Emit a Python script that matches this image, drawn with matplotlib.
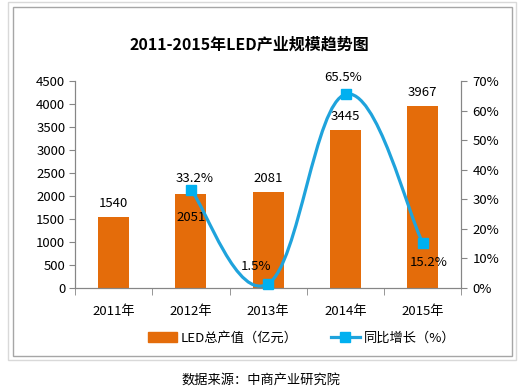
import numpy as np
import matplotlib
matplotlib.use("Agg")
import matplotlib.pyplot as plt
from matplotlib.path import Path
from matplotlib.patches import PathPatch, Rectangle
from matplotlib.lines import Line2D

plt.rcParams['font.family'] = ['Noto Sans CJK SC', 'DejaVu Sans']

## data
years = ["2011年", "2012年", "2013年", "2014年", "2015年"]
output_value = [1540, 2051, 2081, 3445, 3967]
growth_years = [1, 2, 3, 4]          # growth only from 2012
growth_pct = [33.2, 1.5, 65.5, 15.2]
growth_labels = ["33.2%", "1.5%", "65.5%", "15.2%"]

bar_color = "#E46C0A"
line_color = "#1FA3DC"
marker_color = "#00B0F0"
axis_color = "#868686"

fig = plt.figure(figsize=(5.29, 3.90), dpi=100)
ax = fig.add_axes([0.1418, 0.2615, 0.7306, 0.5308])
ax2 = ax.twinx()

x = np.arange(len(years))
ax.bar(x, output_value, width=0.40, color=bar_color, zorder=2)
ax.set_xlim(-0.5, len(years) - 0.5)
ax.set_ylim(0, 4500)
ax.set_yticks(np.arange(0, 4501, 500))
ax.set_xticks(x)
ax.set_xticklabels(years)
ax.set_xticks(np.arange(-0.5, len(years), 1), minor=True)
ax.tick_params(axis='x', which='major', length=0, pad=12, labelsize=9.5)
ax.tick_params(axis='x', which='minor', length=5, color=axis_color, direction='out')
ax.tick_params(axis='y', length=4, color=axis_color, pad=3, labelsize=9.5)

ax2.set_ylim(0, 70)
ax2.set_yticks(np.arange(0, 71, 10))
ax2.set_yticklabels([f"{v}%" for v in range(0, 71, 10)])
ax2.tick_params(axis='y', length=4, color=axis_color, pad=4, labelsize=9.5)

for a in (ax, ax2):
    a.spines['top'].set_visible(False)
    for s in ('left', 'right', 'bottom'):
        a.spines[s].set_color(axis_color)
ax.set_zorder(1)
ax2.set_zorder(2)
ax.patch.set_visible(False)

# bar value labels
bar_offsets = [5, -17, 5, 5, 5]
for xi, v, off in zip(x, output_value, bar_offsets):
    ax.annotate(str(v), (xi, v), xytext=(0, off), textcoords='offset points',
                ha='center', va='center' if off < 0 else 'bottom', fontsize=9.5,
                zorder=5)

# smoothed growth line (Excel-style smooth curve), computed in pixel-like space
sx, sy = 77.3, 207 / 70.0
pts = np.array([[gx * sx, gy * sy] for gx, gy in zip(growth_years, growth_pct)])
verts = [tuple(pts[0])]
codes = [Path.MOVETO]
n = len(pts)
for i in range(n - 1):
    p0 = pts[max(i - 1, 0)]
    p1 = pts[i]
    p2 = pts[i + 1]
    p3 = pts[min(i + 2, n - 1)]
    c1 = p1 + (p2 - p0) / 5.0
    c2 = p2 - (p3 - p1) / 5.0
    verts += [tuple(c1), tuple(c2), tuple(p2)]
    codes += [Path.CURVE4] * 3
verts = [(vx / sx, vy / sy) for vx, vy in verts]
curve = PathPatch(Path(verts, codes), facecolor='none', edgecolor=line_color,
                  lw=2.3, clip_on=False, zorder=3)
ax2.add_patch(curve)
ax2.plot(growth_years, growth_pct, ls='none', marker='s', ms=7,
         color=marker_color, clip_on=False, zorder=4)

pct_offsets = [(3, 8), (-9, 12), (-2, 12), (4, -14)]
for gx, gy, lab, off in zip(growth_years, growth_pct, growth_labels, pct_offsets):
    ax2.annotate(lab, (gx, gy), xytext=off, textcoords='offset points',
                 ha='center', va='center', fontsize=9.5, zorder=5)

# title
fig.text(0.471, 0.885, "2011-2015年LED产业规模趋势图", ha='center', va='center',
         fontsize=11.5, fontweight='bold')

# legend
handles = [Rectangle((0, 0), 1, 1, color=bar_color),
           Line2D([], [], color=line_color, lw=2.3, marker='s', ms=7,
                  markerfacecolor=marker_color, markeredgecolor=marker_color)]
fig.legend(handles, ["LED总产值（亿元）", "同比增长（%）"], loc='center',
           bbox_to_anchor=(0.57, 0.133), ncol=2, frameon=False, fontsize=9.5,
           handlelength=2.2, handletextpad=0.3, columnspacing=2.5)

# frames
fig.add_artist(Rectangle((8 / 529, 1 - 360 / 390), 508 / 529, 358 / 390,
                         transform=fig.transFigure, fill=False,
                         edgecolor="#D9D9D9", lw=1))
fig.add_artist(Rectangle((13 / 529, 1 - 356 / 390), 499 / 529, 349 / 390,
                         transform=fig.transFigure, fill=False,
                         edgecolor="#A6A6A6", lw=1))

fig.text(0.494, 0.023, "数据来源：中商产业研究院", ha='center', va='center',
         fontsize=9.5)

fig.savefig("out.png", dpi=100)
